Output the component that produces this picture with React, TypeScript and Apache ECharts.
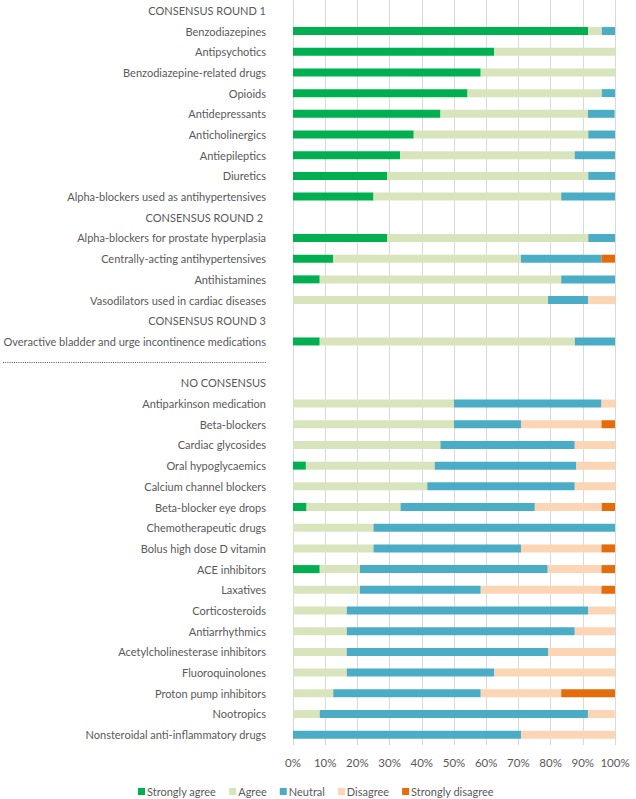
import React, { useEffect, useRef } from "react";
import * as echarts from "echarts";

const categories = [
  "CONSENSUS ROUND 1",
  "Benzodiazepines",
  "Antipsychotics",
  "Benzodiazepine-related drugs",
  "Opioids",
  "Antidepressants",
  "Anticholinergics",
  "Antiepileptics",
  "Diuretics",
  "Alpha-blockers used as antihypertensives",
  "CONSENSUS ROUND 2 ",
  "Alpha-blockers for prostate hyperplasia",
  "Centrally-acting antihypertensives",
  "Antihistamines",
  "Vasodilators used in cardiac diseases",
  "CONSENSUS ROUND 3",
  "Overactive bladder and urge incontinence medications",
  "",
  "NO CONSENSUS",
  "Antiparkinson medication",
  "Beta-blockers",
  "Cardiac glycosides",
  "Oral hypoglycaemics",
  "Calcium channel blockers",
  "Beta-blocker eye drops",
  "Chemotherapeutic drugs",
  "Bolus high dose D vitamin",
  "ACE inhibitors",
  "Laxatives",
  "Corticosteroids",
  "Antiarrhythmics",
  "Acetylcholinesterase inhibitors",
  "Fluoroquinolones",
  "Proton pump inhibitors",
  "Nootropics",
  "Nonsteroidal anti-inflammatory drugs",
];

const stronglyAgree = [
  null, 91.7, 62.5, 58.3, 54.2, 45.8, 37.5, 33.3, 29.2, 25,
  null, 29.2, 12.5, 8.3, 0,
  null, 8.3,
  null, null,
  0, 0, 0, 4, 0, 4.2, 0, 0, 8.3, 0, 0, 0, 0, 0, 0, 0, 0,
];
const agree = [
  null, 4.2, 37.5, 41.7, 41.7, 45.8, 54.2, 54.2, 62.5, 58.3,
  null, 62.5, 58.3, 75, 79.2,
  null, 79.2,
  null, null,
  50, 50, 45.8, 40, 41.7, 29.2, 25, 25, 12.5, 20.8, 16.7, 16.7, 16.7, 16.7, 12.5, 8.3, 0,
];
const neutral = [
  null, 4.2, 0, 0, 4.2, 8.3, 8.3, 12.5, 8.3, 16.7,
  null, 8.3, 25, 16.7, 12.5,
  null, 12.5,
  null, null,
  45.8, 20.8, 41.7, 44, 45.8, 41.7, 75, 45.8, 58.3, 37.5, 75, 70.8, 62.5, 45.8, 45.8, 83.3, 70.8,
];
const disagree = [
  null, 0, 0, 0, 0, 0, 0, 0, 0, 0,
  null, 0, 0, 0, 8.3,
  null, 0,
  null, null,
  4.2, 25, 12.5, 12, 12.5, 20.8, 0, 25, 16.7, 37.5, 8.3, 12.5, 20.8, 37.5, 25, 8.3, 29.2,
];
const stronglyDisagree = [
  null, 0, 0, 0, 0, 0, 0, 0, 0, 0,
  null, 0, 4.2, 0, 0,
  null, 0,
  null, null,
  0, 4.2, 0, 0, 0, 4.2, 0, 4.2, 4.2, 4.2, 0, 0, 0, 0, 16.7, 0, 0,
];

const seriesNames = ["Strongly agree", "Agree", "Neutral", "Disagree", "Strongly disagree"];
const seriesColors = ["#00b050", "#d8e4bc", "#4bacc6", "#fcd5b4", "#e46c0a"];
const seriesValues = [stronglyAgree, agree, neutral, disagree, stronglyDisagree];
const separatorIndex = 17;

export default function App() {
  const ref = useRef<HTMLDivElement>(null);
  useEffect(() => {
    if (!ref.current) return;
    const chart = echarts.init(ref.current, null, { renderer: "svg" });
    const font = "Lato, 'Open Sans', sans-serif";
    chart.setOption({
      animation: false,
      textStyle: { fontFamily: font },
      grid: { left: 293, right: 21, top: 0, bottom: 54, containLabel: false },
      legend: {
        data: seriesNames,
        top: 786,
        left: 138,
        icon: "rect",
        itemWidth: 7,
        itemHeight: 7,
        itemGap: 13,
        padding: 0,
        textStyle: { color: "#595959", fontSize: 11, fontFamily: font, padding: [0, 0, 0, -3] },
      },
      xAxis: {
        type: "value",
        min: 0,
        max: 100,
        interval: 10,
        axisLine: { show: false },
        axisTick: { show: false },
        splitLine: { show: true, lineStyle: { color: "#d9d9d9", width: 1 } },
        axisLabel: { formatter: "{value}%", color: "#595959", fontSize: 11.5, margin: 11, fontFamily: font },
      },
      yAxis: {
        type: "category",
        inverse: true,
        data: categories,
        axisLine: { show: false },
        axisTick: { show: false },
        axisLabel: { color: "#595959", fontSize: 11, margin: 27, interval: 0, fontFamily: font },
      },
      series: seriesNames.map((name, i) => ({
        name,
        type: "bar",
        stack: "total",
        barWidth: 8,
        itemStyle: { color: seriesColors[i] },
        data: seriesValues[i],
      })),
    });
    const y = chart.convertToPixel({ yAxisIndex: 0 }, separatorIndex) as number;
    chart.setOption({
      graphic: [
        {
          type: "line",
          shape: { x1: 3, y1: Math.round(y) + 0.5, x2: 266, y2: Math.round(y) + 0.5 },
          style: { stroke: "#555555", lineWidth: 1, lineDash: [1, 1.2] },
        },
      ],
    });
    return () => chart.dispose();
  }, []);
  return <div ref={ref} style={{ position: "absolute", left: 0, top: 0, width: 636, height: 799 }} />;
}
